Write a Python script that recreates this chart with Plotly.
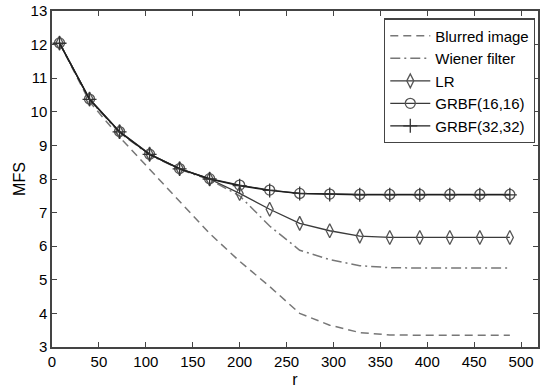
import plotly.graph_objects as go

r = [8, 40, 72, 104, 136, 168, 200, 232, 264, 296, 328, 360, 392, 424, 456, 488]
blurred = [12.05, 10.30, 9.25, 8.30, 7.33, 6.38, 5.55, 4.80, 4.00, 3.65, 3.43, 3.36, 3.35, 3.35, 3.35, 3.35]
wiener = [12.05, 10.36, 9.38, 8.72, 8.29, 7.98, 7.50, 6.60, 5.88, 5.60, 5.42, 5.36, 5.35, 5.35, 5.35, 5.35]
lr = [12.05, 10.38, 9.41, 8.74, 8.31, 8.00, 7.57, 7.10, 6.68, 6.46, 6.30, 6.26, 6.26, 6.26, 6.26, 6.26]
grbf16 = [12.05, 10.38, 9.41, 8.74, 8.31, 8.01, 7.82, 7.67, 7.57, 7.55, 7.54, 7.54, 7.54, 7.54, 7.54, 7.54]
grbf32 = [12.04, 10.37, 9.40, 8.73, 8.30, 8.00, 7.80, 7.66, 7.57, 7.54, 7.53, 7.53, 7.53, 7.53, 7.53, 7.53]

x_ticks = [0, 50, 100, 150, 200, 250, 300, 350, 400, 450, 500]
y_ticks = [3, 4, 5, 6, 7, 8, 9, 10, 11, 12, 13]

FONT = "Liberation Sans, Arial, sans-serif"
fig = go.Figure()
fig.add_trace(go.Scatter(x=r, y=blurred, mode="lines", name="Blurred image",
                         line=dict(color="#777777", width=1.5, dash="8px,5px")))
fig.add_trace(go.Scatter(x=r, y=wiener, mode="lines", name="Wiener filter",
                         line=dict(color="#777777", width=1.5, dash="10px,4px,2px,4px")))
fig.add_trace(go.Scatter(x=r, y=lr, mode="lines+markers", name="LR",
                         line=dict(color="#3a3a3a", width=1.3),
                         marker=dict(symbol="diamond-tall-open", size=10, color="#555555",
                                     line=dict(width=1.3, color="#555555"))))
fig.add_trace(go.Scatter(x=r, y=grbf16, mode="lines+markers", name="GRBF(16,16)",
                         line=dict(color="#3a3a3a", width=1.3),
                         marker=dict(symbol="circle-open", size=10, color="#555555",
                                     line=dict(width=1.3, color="#555555"))))
fig.add_trace(go.Scatter(x=r, y=grbf32, mode="lines+markers", name="GRBF(32,32)",
                         line=dict(color="#1e1e1e", width=1.4),
                         marker=dict(symbol="cross-thin-open", size=10, color="#333333",
                                     line=dict(width=1.3, color="#333333"))))

axis_common = dict(showline=True, linecolor="#444444", linewidth=1.5, mirror="ticks",
                   ticks="inside", ticklen=5, tickcolor="#444444", tickwidth=1,
                   showgrid=False, zeroline=False,
                   tickfont=dict(family=FONT, size=15, color="#000000"))
fig.update_xaxes(range=[0, 518], tickvals=x_ticks, ticktext=[str(v) for v in x_ticks],
                 title=dict(text="r", font=dict(family=FONT, size=16, color="#000000"), standoff=5),
                 **axis_common)
fig.update_yaxes(range=[3, 13], tickvals=y_ticks, ticktext=[str(v) for v in y_ticks],
                 title=dict(text="MFS", font=dict(family=FONT, size=16, color="#000000"), standoff=1),
                 **axis_common)

fig.update_layout(
    width=541, height=392,
    margin=dict(l=52, r=1, t=11, b=45),
    paper_bgcolor="white", plot_bgcolor="white",
    showlegend=True,
    legend=dict(x=0.994, y=0.978, xanchor="right", yanchor="top",
                bordercolor="#444444", borderwidth=1.2, bgcolor="white",
                font=dict(family=FONT, size=15, color="#000000"),
                tracegroupgap=0, itemwidth=40),
)

fig.write_html("out.html")
